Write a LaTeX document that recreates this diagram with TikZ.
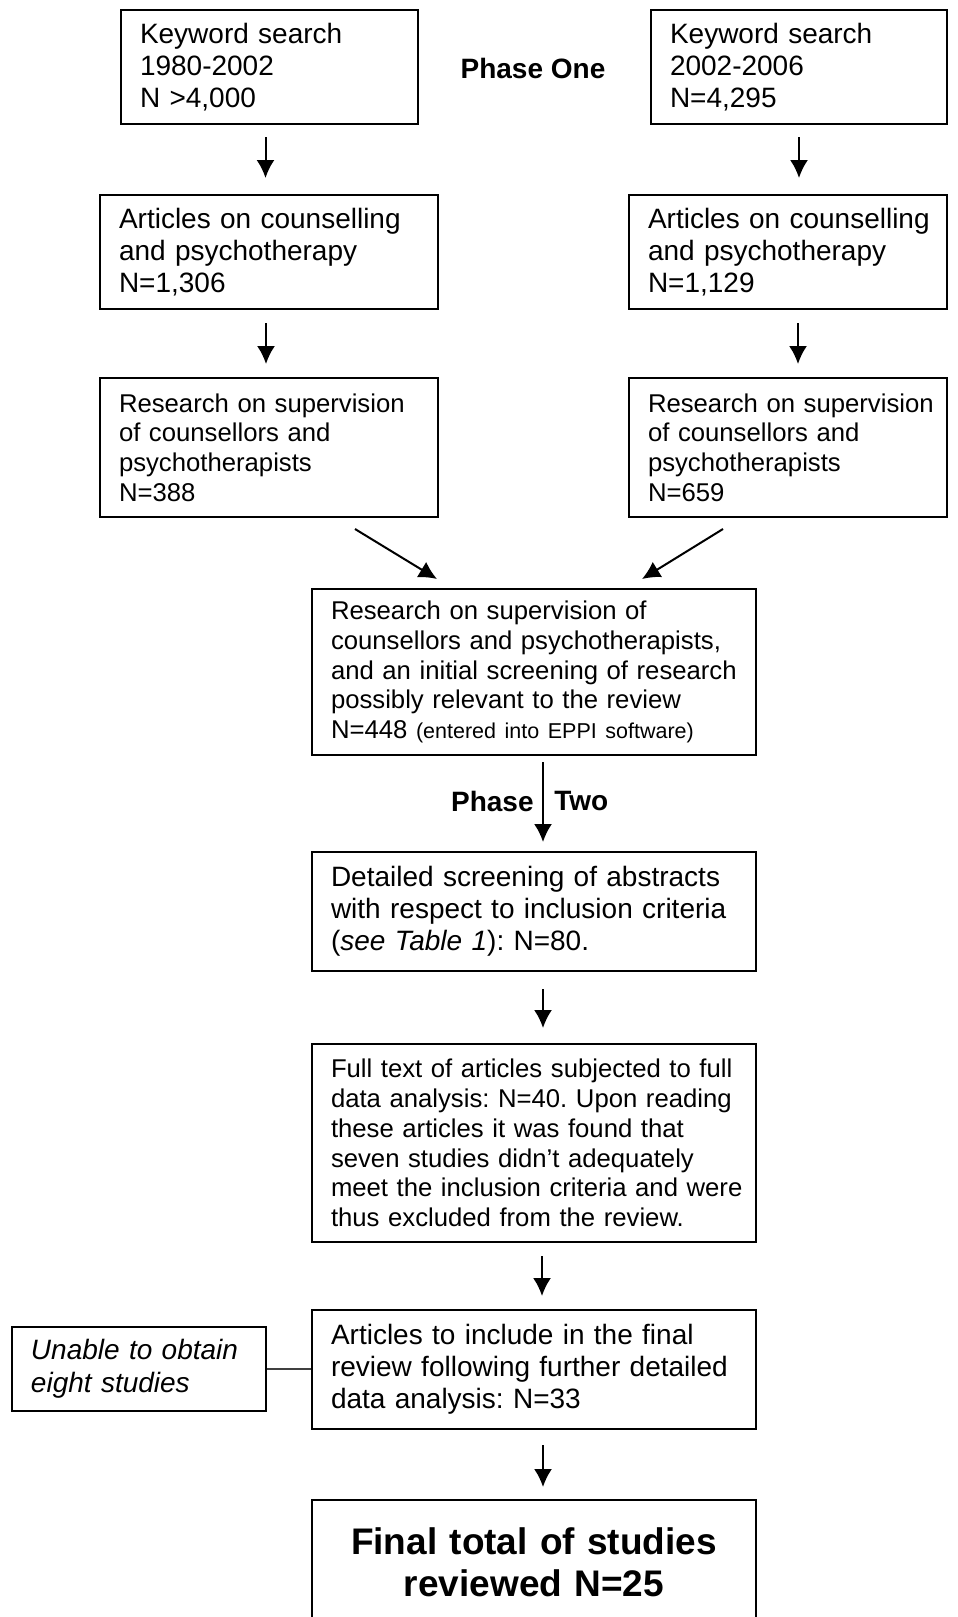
\documentclass[tikz,border=0pt]{standalone}
\usepackage{fontspec}
\setmainfont{Liberation Sans}
\usetikzlibrary{arrows.meta,calc}
\frenchspacing
\begin{document}
\begin{tikzpicture}[x=0.5pt,y=-0.5pt,
  box/.style={draw=black, line width=1pt, rectangle, inner xsep=9.5pt, inner ysep=0pt, align=left, anchor=center},
  big/.style={font=\fontsize{14}{16}\selectfont},
  small/.style={font=\fontsize{12.85}{14.85}\selectfont},
  arr/.style={draw=black, line width=1pt, -{Latex[length=9pt,width=9pt]}},
  phase/.style={font=\bfseries\fontsize{14}{16}\selectfont, inner sep=0pt},
]
\useasboundingbox (0,0) rectangle (958,1617);

% Phase one boxes
\node[box,big,minimum width=148.5pt,minimum height=57pt,text width=129.5pt] (A) at (269.5,67) {Keyword search\\1980-2002\\N >4,000};
\node[box,big,minimum width=148pt,minimum height=57pt,text width=129pt] (B) at (799,67) {Keyword search\\2002-2006\\N=4,295};
\node[phase] (p1) at (533,68) {Phase One};

\node[box,big,minimum width=169pt,minimum height=57pt,text width=150pt] (C) at (269,252) {Articles on counselling\\and psychotherapy\\N=1,306};
\node[box,big,minimum width=159pt,minimum height=57pt,text width=140pt] (D) at (788,252) {\mbox{Articles on counselling}\\and psychotherapy\\N=1,129};

\node[box,small,minimum width=169pt,minimum height=69.5pt,text width=150pt] (E) at (269,447.5) {Research on supervision\\of counsellors and\\psychotherapists\\N=388};
\node[box,small,minimum width=159pt,minimum height=69.5pt,text width=140pt] (F) at (788,447.5) {\mbox{Research on supervision}\\of counsellors and\\psychotherapists\\N=659};

\node[box,small,minimum width=222pt,minimum height=83pt,text width=203pt] (G) at (534,672) {\mbox{Research on supervision of}\\\mbox{counsellors and psychotherapists,}\\\mbox{and an initial screening of research}\\\mbox{possibly relevant to the review}\\\mbox{N=448 {\fontsize{10.75}{14.85}\selectfont (entered into EPPI software)}}};

\node[phase,anchor=east] (p2a) at (534,801) {Phase};
\node[phase,anchor=west] (p2b) at (554,801) {Two};

\node[box,big,minimum width=222pt,minimum height=59.5pt,text width=203pt] (H) at (534,911.5) {\mbox{Detailed screening of abstracts}\\\mbox{with respect to inclusion criteria}\\(\textit{see Table 1}): N=80.};

\node[box,small,minimum width=222pt,minimum height=99pt,text width=203pt] (I) at (534,1143) {\mbox{Full text of articles subjected to full}\\\mbox{data analysis: N=40. Upon reading}\\\mbox{these articles it was found that}\\\mbox{seven studies didn’t adequately}\\\mbox{meet the inclusion criteria and were}\\\mbox{thus excluded from the review.}};

\node[box,big,minimum width=222pt,minimum height=59.5pt,text width=203pt] (J) at (534,1369.5) {\mbox{Articles to include in the final}\\\mbox{review following further detailed}\\data analysis: N=33};

\node[box,font=\itshape\fontsize{14}{16.5}\selectfont,minimum width=127pt,minimum height=42pt,text width=108pt] (K) at (139,1369) {Unable to obtain\\eight studies};

\node[box,align=center,font=\bfseries\fontsize{18.5}{21}\selectfont,minimum width=222pt,minimum height=62.5pt,text width=203pt] (L) at (534,1562.5) {Final total of studies\\reviewed N=25};

% connectors
\draw[arr, shorten <=6pt, shorten >=8pt] ([xshift=-2pt]A.south) -- ([xshift=-2pt]A.south |- C.north);
\draw[arr, shorten <=6pt, shorten >=8pt] (B.south) -- (B.south |- D.north);
\draw[arr, shorten <=6.5pt, shorten >=6.5pt] ([xshift=-1.5pt]C.south) -- ([xshift=-1.5pt]C.south |- E.north);
\draw[arr, shorten <=6.5pt, shorten >=6.5pt] ([xshift=5pt]D.south) -- ([xshift=5pt]D.south |- F.north);
\draw[arr] ($(E.south east)+(-84,11)$) -- ($(G.north west)+(126,-9)$);
\draw[arr] ($(F.south west)+(95,11)$) -- ($(G.north east)+(-115,-9)$);
\draw[arr, shorten <=3pt, shorten >=4.5pt] ([xshift=4.5pt]G.south) -- ([xshift=4.5pt]G.south |- H.north);
\draw[arr, shorten <=8.5pt, shorten >=7.5pt] ([xshift=4.5pt]H.south) -- ([xshift=4.5pt]H.south |- I.north);
\draw[arr, shorten <=6.5pt, shorten >=6.5pt] ([xshift=4pt]I.south) -- ([xshift=4pt]I.south |- J.north);
\draw[arr, shorten <=7.5pt, shorten >=6pt] ([xshift=4.5pt]J.south) -- ([xshift=4.5pt]J.south |- L.north);
\draw[line width=0.75pt, draw=black!75] (K.east) -- (K.east -| J.west);
\end{tikzpicture}
\end{document}
